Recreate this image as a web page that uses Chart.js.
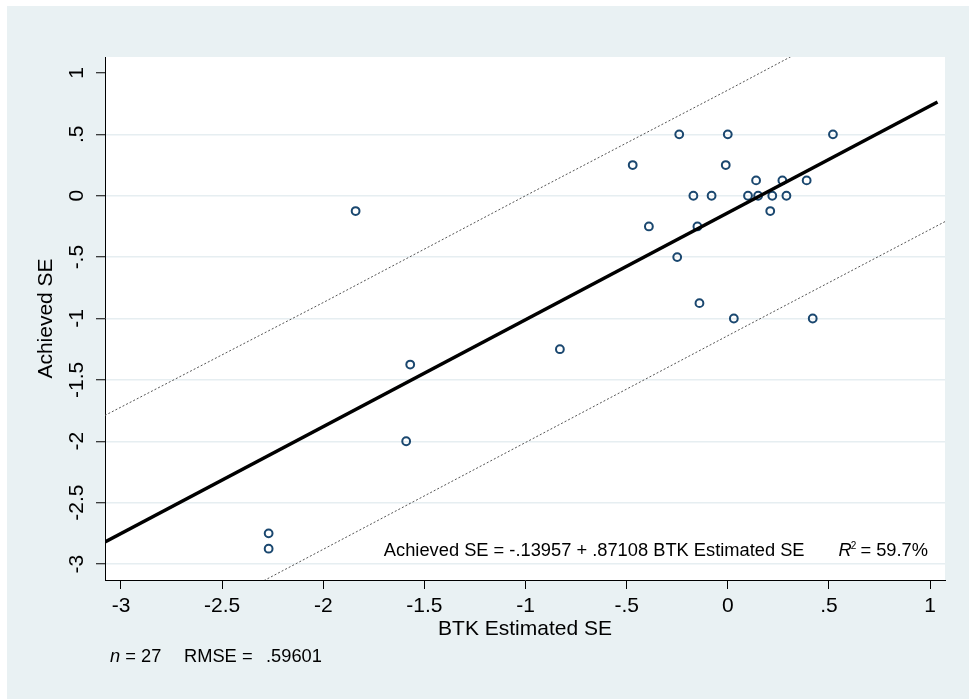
<!DOCTYPE html>
<html>
<head>
<meta charset="utf-8">
<script src="https://cdn.jsdelivr.net/npm/chart.js@4.4.0/dist/chart.umd.min.js"></script>
<style>
    html, body { margin: 0; padding: 0; background: #fff; }
    canvas { display: block; }
</style>
</head>
<body>
<canvas id="myChart" width="969" height="699"></canvas>
<script>
var btkEstimated = [-2.27, -2.27, -1.84, -1.57, -1.59, -0.83, -0.47, -0.39, -0.24, -0.25, -0.17, -0.15, -0.14, -0.08, 0.00, -0.01, 0.03, 0.10, 0.14, 0.15, 0.22, 0.21, 0.27, 0.29, 0.39, 0.42, 0.52];
var achievedSE = [-2.75, -2.875, -0.125, -1.375, -2.0, -1.25, 0.25, -0.25, 0.5, -0.5, 0, -0.25, -0.875, 0, 0.5, 0.25, -1.0, 0, 0.125, 0, 0, -0.125, 0.125, 0, 0.125, -1.0, 0.5];

// fitted line and prediction band, end points
var fitX = [-3.079, 1.037];
var fitY = [-2.82, 0.764];
var bandX = [-3.08, -2, -1, 0, 1.075];
var bandUpper = [-1.79, -0.87, 0.0, 0.86, 1.80];
var bandLower = [-3.82, -2.88, -2.01, -1.14, -0.21];

var xTicks = [-3, -2.5, -2, -1.5, -1, -0.5, 0, 0.5, 1];
var yTicks = [-3, -2.5, -2, -1.5, -1, -0.5, 0, 0.5, 1];

var fitNote = "Achieved SE = -.13957 + .87108 BTK Estimated SE";
var r2Note = "= 59.7%";
var nObs = "27";
var rmse = ".59601";

var panelColor = "#e9f1f3";
var gridColor = "#e6eef1";
var pointColor = "#1a476f";
var fontFamily = '"Liberation Sans", Arial, Helvetica, sans-serif';

function toPoints(xs, ys) {
    var out = [];
    xs.forEach(function (x, i) {
        out.push({ x: x, y: ys[i] });
    });
    return out;
}

// Stata style labels: .5, -.5, -1.5
function stataLabel(v) {
    return String(v).replace(/^(-?)0\./, "$1.");
}

var backdrop = {
    id: "backdrop",
    beforeDraw: function (chart) {
        var ctx = chart.ctx;
        var a = chart.chartArea;
        ctx.save();
        ctx.fillStyle = "#ffffff";
        ctx.fillRect(0, 0, chart.width, chart.height);
        ctx.fillStyle = panelColor;
        ctx.fillRect(7, 6, chart.width - 7, chart.height - 6);
        ctx.fillStyle = "#ffffff";
        ctx.fillRect(a.left, a.top, a.right - a.left, a.bottom - a.top);
        ctx.restore();
    },
    afterDraw: function (chart) {
        var ctx = chart.ctx;
        ctx.save();
        ctx.fillStyle = "#000";
        ctx.textBaseline = "middle";

        // regression note, right aligned inside the plot
        var normal = "18.3px " + fontFamily;
        var italic = "italic 18.3px " + fontFamily;
        var small = "10px " + fontFamily;
        ctx.font = normal;
        var wFit = ctx.measureText(fitNote).width;
        var wR2 = ctx.measureText(" " + r2Note).width;
        ctx.font = italic;
        var wR = ctx.measureText("R").width;
        ctx.font = small;
        var wSup = ctx.measureText("2").width;
        var gap = 34;
        var yNote = 551;
        var x = 930 - (wFit + gap + wR + wSup + wR2);
        ctx.font = normal;
        ctx.fillText(fitNote, x, yNote);
        x += wFit + gap;
        ctx.font = italic;
        ctx.fillText("R", x, yNote);
        x += wR;
        ctx.font = small;
        ctx.fillText("2", x - 1, yNote - 5);
        x += wSup - 2;
        ctx.font = normal;
        ctx.fillText(" " + r2Note, x, yNote);

        // n and RMSE under the axis title
        var yFoot = 657;
        ctx.font = italic;
        ctx.fillText("n", 110, yFoot);
        var wn = ctx.measureText("n").width;
        ctx.font = normal;
        ctx.fillText(" = " + nObs, 110 + wn, yFoot);
        ctx.fillText("RMSE =", 184, yFoot);
        ctx.fillText(rmse, 266, yFoot);
        ctx.restore();
    }
};

var data = {
    datasets: [
        {
            type: "line",
            label: "Fitted values",
            data: toPoints(fitX, fitY),
            borderColor: "#000",
            borderWidth: 3.5,
            pointRadius: 0,
            fill: false
        },
        {
            type: "line",
            label: "Upper band",
            data: toPoints(bandX, bandUpper),
            borderColor: "#555",
            borderWidth: 1,
            borderDash: [2, 2],
            pointRadius: 0,
            fill: false
        },
        {
            type: "line",
            label: "Lower band",
            data: toPoints(bandX, bandLower),
            borderColor: "#555",
            borderWidth: 1,
            borderDash: [2, 2],
            pointRadius: 0,
            fill: false
        },
        {
            type: "scatter",
            label: "Achieved SE",
            data: toPoints(btkEstimated, achievedSE),
            pointRadius: 3.9,
            borderWidth: 2,
            borderColor: pointColor,
            backgroundColor: "rgba(0,0,0,0)"
        }
    ]
};

var config = {
    type: "scatter",
    data: data,
    plugins: [backdrop],
    options: {
        responsive: false,
        animation: false,
        layout: { padding: { top: 57, right: 24, left: 0, bottom: 0 } },
        plugins: {
            legend: { display: false },
            tooltip: { enabled: false }
        },
        scales: {
            x: {
                type: "linear",
                min: -3.079,
                max: 1.074,
                afterBuildTicks: function (scale) {
                    scale.ticks = xTicks.map(function (v) { return { value: v }; });
                },
                afterFit: function (scale) {
                    scale.height = 119;
                },
                grid: {
                    drawOnChartArea: false,
                    drawTicks: true,
                    tickLength: 9,
                    tickColor: "#000",
                    tickWidth: 1
                },
                border: { color: "#000", width: 1 },
                ticks: {
                    color: "#000",
                    autoSkip: false,
                    maxRotation: 0,
                    padding: 5,
                    font: { family: fontFamily, size: 21 },
                    callback: function (value) {
                        return stataLabel(value);
                    }
                },
                title: {
                    display: true,
                    text: "BTK Estimated SE",
                    color: "#000",
                    font: { family: fontFamily, size: 21 },
                    padding: { top: 0, bottom: 57 }
                }
            },
            y: {
                type: "linear",
                min: -3.13,
                max: 1.13,
                afterBuildTicks: function (scale) {
                    scale.ticks = yTicks.map(function (v) { return { value: v }; });
                },
                afterFit: function (scale) {
                    scale.width = 105;
                },
                grid: {
                    drawOnChartArea: true,
                    drawTicks: true,
                    tickLength: 9,
                    lineWidth: 1.5,
                    color: function (ctx) {
                        return ctx.tick && ctx.tick.value === 1 ? "rgba(0,0,0,0)" : gridColor;
                    },
                    tickColor: "#000",
                    tickWidth: 1
                },
                border: { color: "#000", width: 1 },
                ticks: {
                    color: "#000",
                    autoSkip: false,
                    minRotation: 90,
                    maxRotation: 90,
                    crossAlign: "center",
                    padding: 1,
                    font: { family: fontFamily, size: 21 },
                    callback: function (value) {
                        return stataLabel(value);
                    }
                },
                title: {
                    display: true,
                    text: "Achieved SE",
                    color: "#000",
                    font: { family: fontFamily, size: 21 },
                    padding: { top: 34, bottom: 0 }
                }
            }
        }
    }
};

var ctx = document.getElementById("myChart").getContext("2d");
var myChart = new Chart(ctx, config);
</script>
</body>
</html>
